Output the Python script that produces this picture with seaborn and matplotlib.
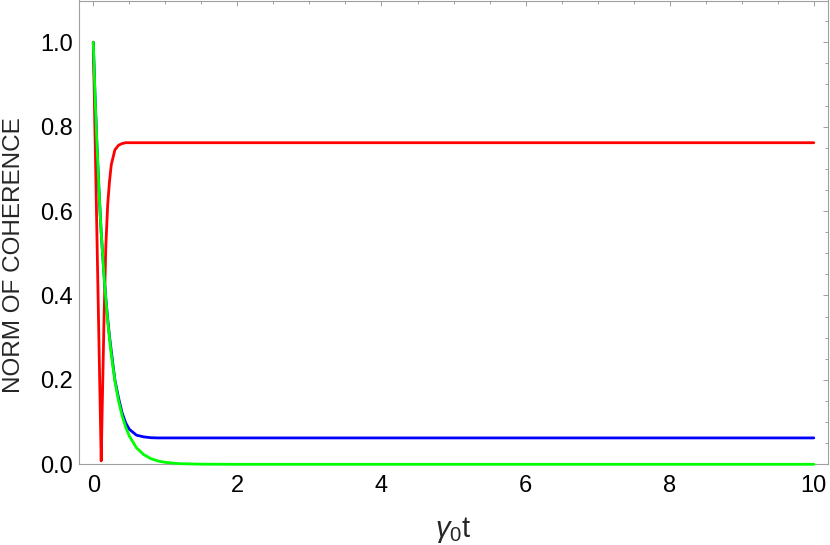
import matplotlib
matplotlib.use("Agg")
import matplotlib.pyplot as plt
from matplotlib.ticker import MultipleLocator, FormatStrFormatter
import seaborn as sns
import pandas as pd

# ---- data ----
t = [0.0, 0.025, 0.05, 0.075, 0.1, 0.11, 0.125, 0.15, 0.175, 0.2, 0.225, 0.25,
     0.3, 0.35, 0.4, 0.45, 0.5, 0.6, 0.7, 0.8, 0.9, 1.0, 1.2, 1.5, 2.0, 10.0]
red = [1.0, 0.775, 0.55, 0.325, 0.10, 0.008, 0.14, 0.35, 0.52, 0.615, 0.67, 0.71,
       0.745, 0.756, 0.760, 0.762, 0.762, 0.762, 0.762, 0.762, 0.762, 0.762,
       0.762, 0.762, 0.762, 0.762]
blue = [1.0, 0.87, 0.76, 0.665, 0.58, 0.55, 0.51, 0.447, 0.392, 0.345, 0.303, 0.268,
        0.20, 0.158, 0.122, 0.098, 0.083, 0.069, 0.065, 0.063, 0.0625, 0.0625,
        0.0625, 0.0625, 0.0625, 0.0625]
green = [1.0, 0.87, 0.76, 0.665, 0.58, 0.55, 0.51, 0.445, 0.39, 0.34, 0.298, 0.26,
         0.197, 0.151, 0.115, 0.088, 0.067, 0.039, 0.023, 0.0133, 0.0078, 0.0045,
         0.0015, 0.0003, 0.0, 0.0]
x_ticks = [0, 2, 4, 6, 8, 10]
y_ticks = [0.0, 0.2, 0.4, 0.6, 0.8, 1.0]
series_colors = {"red": "#ff0000", "blue": "#0000ff", "green": "#00ff00"}

df = pd.DataFrame({"t": t, "red": red, "blue": blue, "green": green})

sns.set_style("white")
plt.rcParams["font.family"] = ["Liberation Sans", "DejaVu Sans"]
plt.rcParams["mathtext.fontset"] = "custom"
plt.rcParams["mathtext.rm"] = "Liberation Sans"
plt.rcParams["mathtext.it"] = "Liberation Sans:italic"

W, H = 830, 545
fig = plt.figure(figsize=(W / 100, H / 100), dpi=100)
left, right, top, bottom = 78.5, 828.0, 0.5, 464.3
ax = fig.add_axes([left / W, 1 - bottom / H, (right - left) / W, (bottom - top) / H])

for name in ["red", "blue", "green"]:
    sns.lineplot(data=df, x="t", y=name, color=series_colors[name], linewidth=2.0,
                 ax=ax, clip_on=False, zorder=3, sort=False)

ax.set_xlim(-0.205, 10.197)
ax.set_ylim(0.0, 1.099)

ax.set_xticks(x_ticks)
ax.set_yticks(y_ticks)
ax.xaxis.set_minor_locator(MultipleLocator(0.5))
ax.yaxis.set_minor_locator(MultipleLocator(0.05))
ax.yaxis.set_major_formatter(FormatStrFormatter("%.1f"))

spine_color = "#a0a0a0"
for s in ax.spines.values():
    s.set_color(spine_color)
    s.set_linewidth(0.8)
    s.set_visible(True)

ax.tick_params(which="both", direction="in", top=True, right=True,
               color=spine_color, labelcolor="black", width=0.7)
ax.tick_params(which="major", length=3.4, labelsize=17)
ax.tick_params(which="minor", length=1.9)
ax.tick_params(axis="x", which="major", pad=7.5)
ax.tick_params(axis="y", which="major", pad=4)

ax.set_xlabel(r"$\gamma_0$t", fontsize=21)
ax.set_ylabel("NORM OF COHERENCE", fontsize=17.5)
ax.xaxis.label.set_verticalalignment("center")
ax.xaxis.set_label_coords(0.5, -0.1425)
ax.yaxis.label.set_verticalalignment("center")
ax.yaxis.set_label_coords(-0.0867, 0.451)
ax.grid(False)

fig.savefig("out.png", dpi=100)
